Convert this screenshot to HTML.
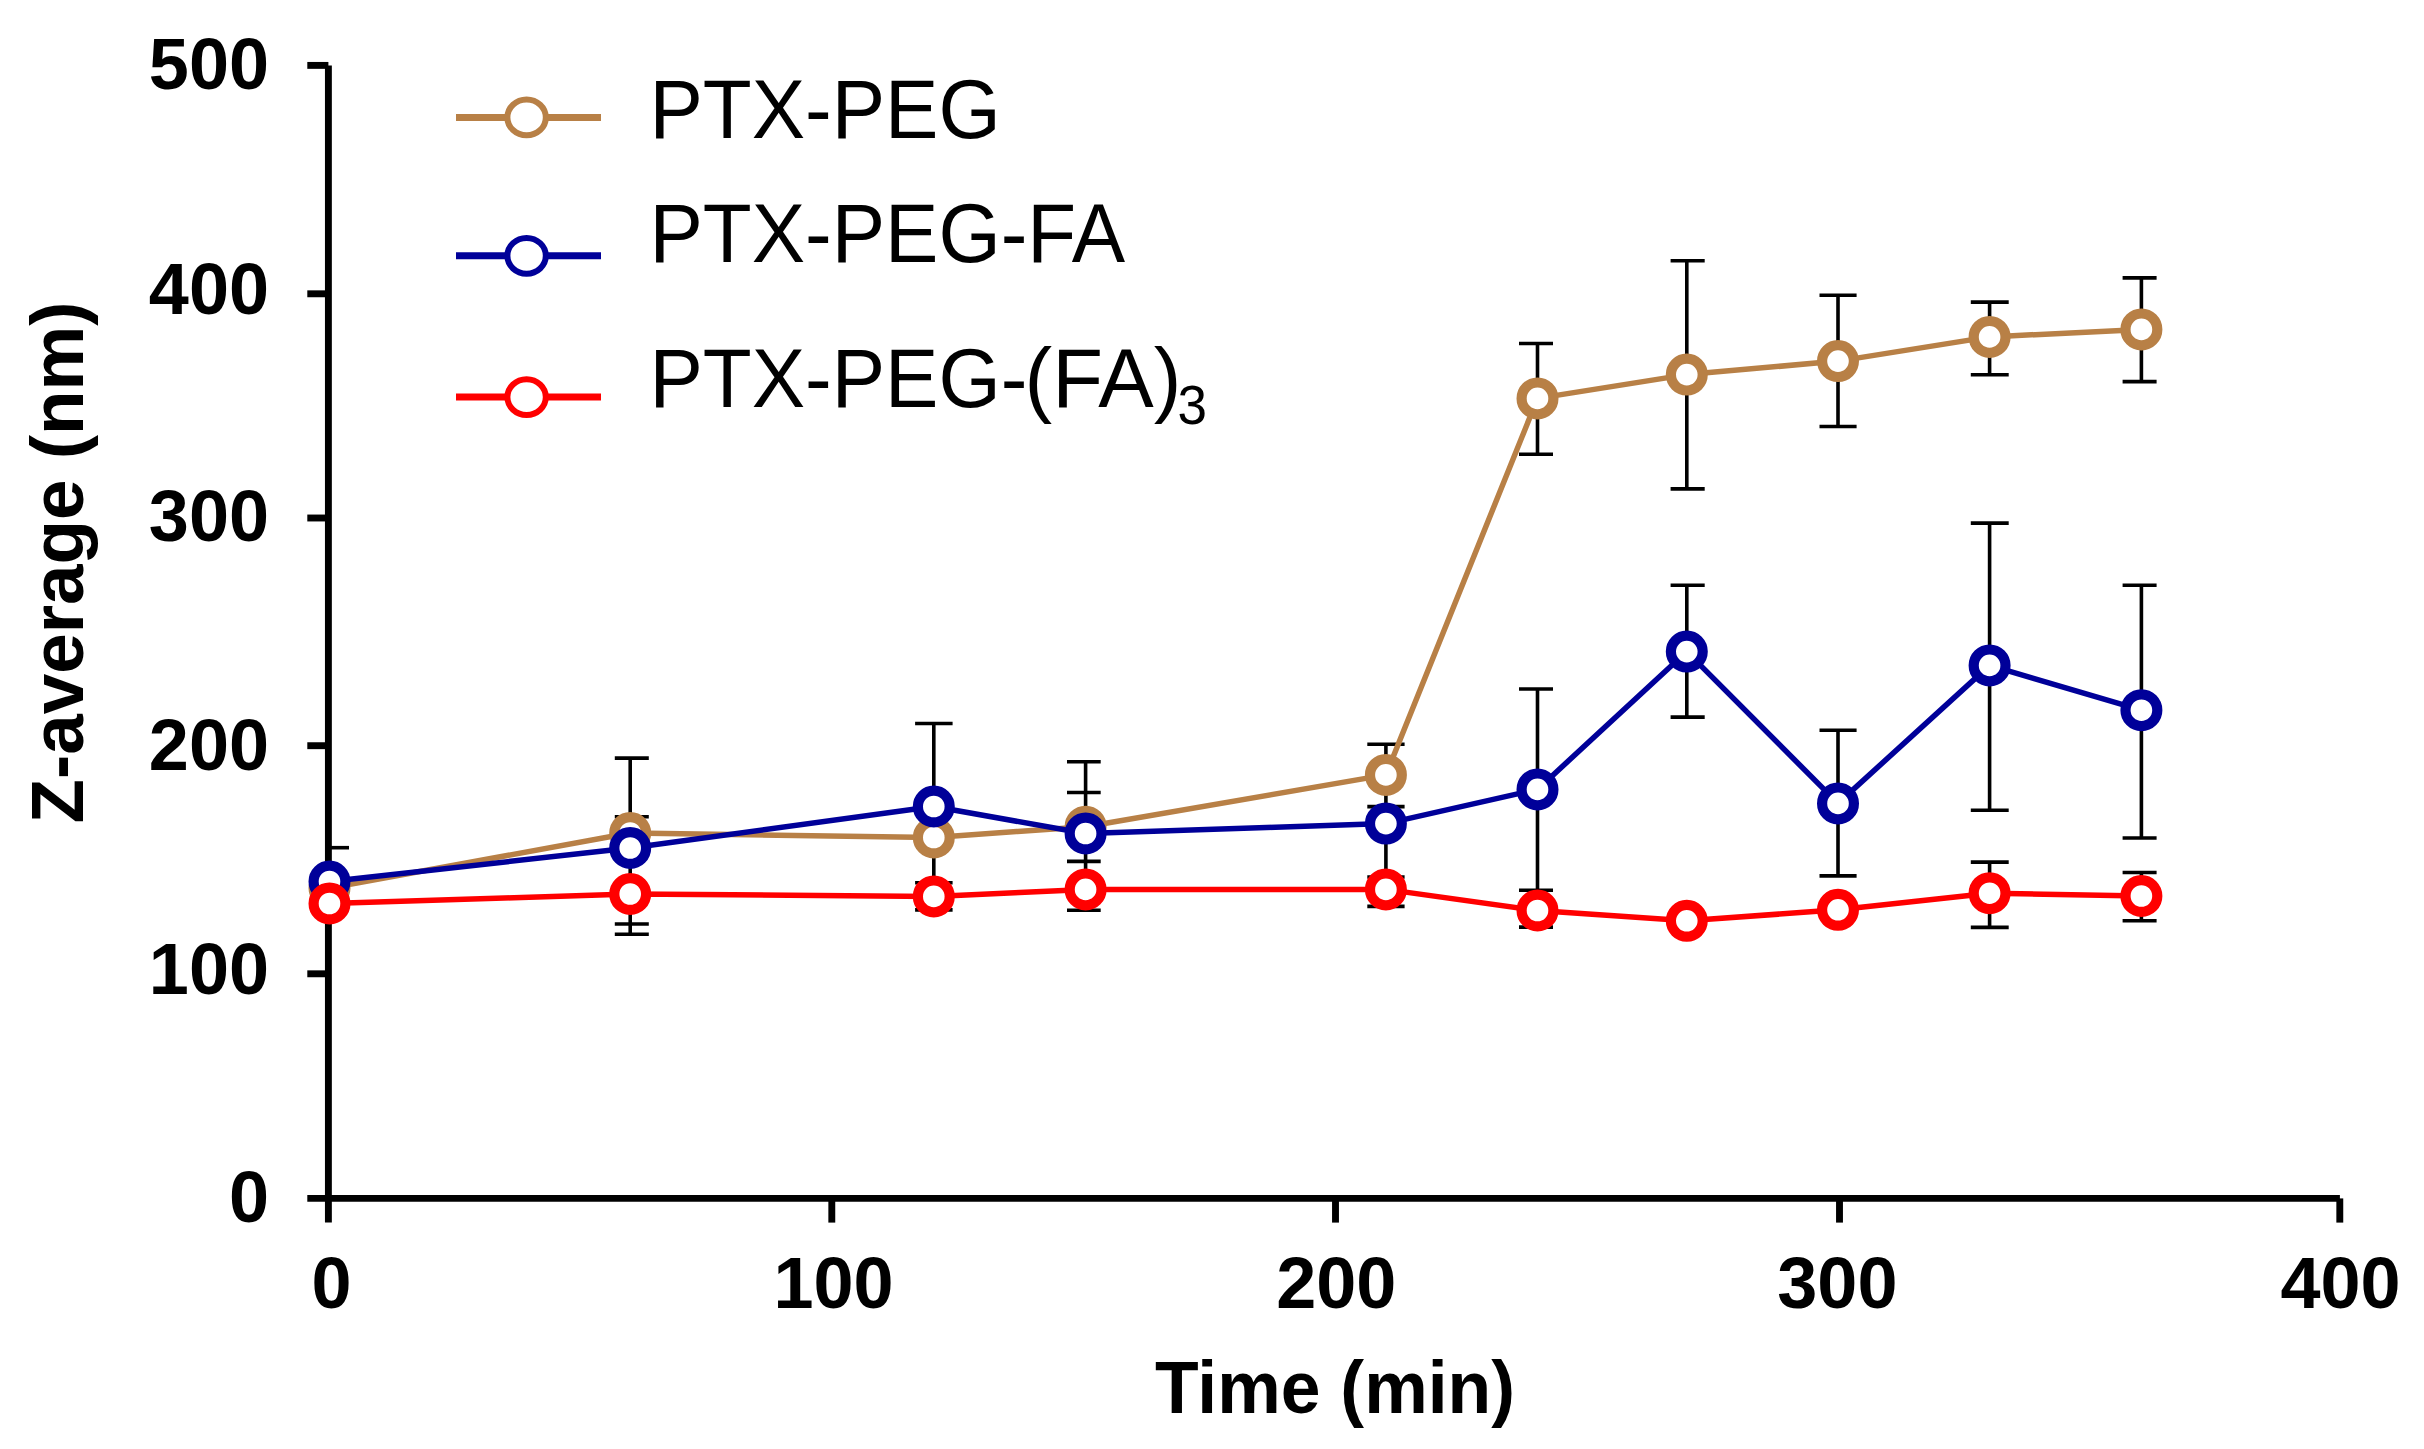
<!DOCTYPE html>
<html lang="en"><head><meta charset="utf-8"><title>Z-average vs Time</title>
<style>html,body{margin:0;padding:0;background:#fff}svg{display:block}text{font-family:"Liberation Sans",Arial,Helvetica,sans-serif;fill:#000}.b{font-weight:bold;font-size:72px}.l{font-size:80px}</style></head><body>
<svg width="2424" height="1449" viewBox="0 0 2424 1449" style="filter:blur(0.6px)">
<rect width="2424" height="1449" fill="#fff"/>
<g stroke="#000" stroke-width="6.9" fill="none">
<line x1="328.4" y1="65.4" x2="328.4" y2="1222.6"/>
<line x1="307.3" y1="1198.4" x2="2339.9" y2="1198.4"/>
<line x1="307.3" y1="65.4" x2="328.4" y2="65.4"/>
<line x1="307.3" y1="293.8" x2="328.4" y2="293.8"/>
<line x1="307.3" y1="518" x2="328.4" y2="518"/>
<line x1="307.3" y1="745.7" x2="328.4" y2="745.7"/>
<line x1="307.3" y1="973.8" x2="328.4" y2="973.8"/>
<line x1="831.8" y1="1198.4" x2="831.8" y2="1222.6"/>
<line x1="1335.5" y1="1198.4" x2="1335.5" y2="1222.6"/>
<line x1="1839.5" y1="1198.4" x2="1839.5" y2="1222.6"/>
<line x1="2339.8" y1="1198.4" x2="2339.8" y2="1222.6"/>
</g>
<g stroke="#000" stroke-width="3.6" fill="none">
<line x1="331" y1="847.7" x2="349" y2="847.7"/>
<line x1="630.2" y1="758.1" x2="630.2" y2="934.2"/>
<line x1="614.8" y1="758.1" x2="648.8" y2="758.1"/>
<line x1="614.8" y1="816.8" x2="648.8" y2="816.8"/>
<line x1="614.8" y1="924" x2="648.8" y2="924"/>
<line x1="614.8" y1="934.2" x2="648.8" y2="934.2"/>
<line x1="933.8" y1="723.5" x2="933.8" y2="909.9"/>
<line x1="915.1" y1="723.5" x2="952.6" y2="723.5"/>
<line x1="915.1" y1="882.8" x2="952.6" y2="882.8"/>
<line x1="915.1" y1="909.9" x2="952.6" y2="909.9"/>
<line x1="1085.6" y1="761.7" x2="1085.6" y2="910.2"/>
<line x1="1067" y1="761.7" x2="1100.7" y2="761.7"/>
<line x1="1067" y1="792.5" x2="1100.7" y2="792.5"/>
<line x1="1067" y1="861.4" x2="1100.7" y2="861.4"/>
<line x1="1067" y1="910.2" x2="1100.7" y2="910.2"/>
<line x1="1385.9" y1="744.3" x2="1385.9" y2="906.4"/>
<line x1="1367.3" y1="744.3" x2="1404.6" y2="744.3"/>
<line x1="1367.3" y1="806.6" x2="1404.6" y2="806.6"/>
<line x1="1367.3" y1="877" x2="1404.6" y2="877"/>
<line x1="1367.3" y1="906.4" x2="1404.6" y2="906.4"/>
<line x1="1537.5" y1="343.5" x2="1537.5" y2="454.3"/>
<line x1="1519" y1="343.5" x2="1553" y2="343.5"/>
<line x1="1519" y1="454.3" x2="1553" y2="454.3"/>
<line x1="1537.5" y1="689" x2="1537.5" y2="927.1"/>
<line x1="1519" y1="689" x2="1553" y2="689"/>
<line x1="1519" y1="890.2" x2="1553" y2="890.2"/>
<line x1="1519" y1="927.1" x2="1553" y2="927.1"/>
<line x1="1686.8" y1="260.7" x2="1686.8" y2="488.9"/>
<line x1="1670.6" y1="260.7" x2="1704.7" y2="260.7"/>
<line x1="1670.6" y1="488.9" x2="1704.7" y2="488.9"/>
<line x1="1686.8" y1="585.3" x2="1686.8" y2="717.1"/>
<line x1="1670.6" y1="585.3" x2="1704.7" y2="585.3"/>
<line x1="1670.6" y1="717.1" x2="1704.7" y2="717.1"/>
<line x1="1838" y1="295.3" x2="1838" y2="426.5"/>
<line x1="1819.5" y1="295.3" x2="1856.6" y2="295.3"/>
<line x1="1819.5" y1="426.5" x2="1856.6" y2="426.5"/>
<line x1="1838" y1="730.3" x2="1838" y2="875.9"/>
<line x1="1819.5" y1="730.3" x2="1856.6" y2="730.3"/>
<line x1="1819.5" y1="875.9" x2="1856.6" y2="875.9"/>
<line x1="1989.6" y1="302.1" x2="1989.6" y2="374.8"/>
<line x1="1970.8" y1="302.1" x2="2008.7" y2="302.1"/>
<line x1="1970.8" y1="374.8" x2="2008.7" y2="374.8"/>
<line x1="1989.6" y1="523.1" x2="1989.6" y2="810.3"/>
<line x1="1970.8" y1="523.1" x2="2008.7" y2="523.1"/>
<line x1="1970.8" y1="810.3" x2="2008.7" y2="810.3"/>
<line x1="1989.6" y1="862.1" x2="1989.6" y2="927.4"/>
<line x1="1970.8" y1="862.1" x2="2008.7" y2="862.1"/>
<line x1="1970.8" y1="927.4" x2="2008.7" y2="927.4"/>
<line x1="2141.4" y1="277.9" x2="2141.4" y2="381.6"/>
<line x1="2122.6" y1="277.9" x2="2156.6" y2="277.9"/>
<line x1="2122.6" y1="381.6" x2="2156.6" y2="381.6"/>
<line x1="2141.4" y1="585.3" x2="2141.4" y2="838"/>
<line x1="2122.6" y1="585.3" x2="2156.6" y2="585.3"/>
<line x1="2122.6" y1="838" x2="2156.6" y2="838"/>
<line x1="2141.4" y1="872.5" x2="2141.4" y2="920.8"/>
<line x1="2122.6" y1="872.5" x2="2156.6" y2="872.5"/>
<line x1="2122.6" y1="920.8" x2="2156.6" y2="920.8"/>
</g>
<polyline points="329.5,888 630.2,833 933.8,837.5 1085.6,826.7 1385.9,774.9 1537.5,398.4 1686.8,374.6 1838.0,361.1 1989.6,336.9 2141.4,329.4" fill="none" stroke="#b88046" stroke-width="5.5" stroke-linejoin="round"/>
<g fill="#fff" stroke="#b88046" stroke-width="10.2">
<circle cx="329.5" cy="888" r="15.9"/>
<circle cx="630.2" cy="833" r="15.9"/>
<circle cx="933.8" cy="837.5" r="15.9"/>
<circle cx="1085.6" cy="826.7" r="15.9"/>
<circle cx="1385.9" cy="774.9" r="15.9"/>
<circle cx="1537.5" cy="398.4" r="15.9"/>
<circle cx="1686.8" cy="374.6" r="15.9"/>
<circle cx="1838.0" cy="361.1" r="15.9"/>
<circle cx="1989.6" cy="336.9" r="15.9"/>
<circle cx="2141.4" cy="329.4" r="15.9"/>
</g>
<polyline points="329.5,881.5 630.2,848 933.8,806.5 1085.6,833.5 1385.9,823.6 1537.5,789.4 1686.8,651.6 1838.0,803.4 1989.6,665.4 2141.4,710.2" fill="none" stroke="#000099" stroke-width="5.5" stroke-linejoin="round"/>
<g fill="#fff" stroke="#000099" stroke-width="10.2">
<circle cx="329.5" cy="881.5" r="15.9"/>
<circle cx="630.2" cy="848" r="15.9"/>
<circle cx="933.8" cy="806.5" r="15.9"/>
<circle cx="1085.6" cy="833.5" r="15.9"/>
<circle cx="1385.9" cy="823.6" r="15.9"/>
<circle cx="1537.5" cy="789.4" r="15.9"/>
<circle cx="1686.8" cy="651.6" r="15.9"/>
<circle cx="1838.0" cy="803.4" r="15.9"/>
<circle cx="1989.6" cy="665.4" r="15.9"/>
<circle cx="2141.4" cy="710.2" r="15.9"/>
</g>
<polyline points="329.5,903.5 630.2,894 933.8,896.4 1085.6,889.4 1385.9,889.4 1537.5,910.5 1686.8,920.8 1838.0,909.8 1989.6,893.2 2141.4,896" fill="none" stroke="#ff0000" stroke-width="5.5" stroke-linejoin="round"/>
<g fill="#fff" stroke="#ff0000" stroke-width="10.2">
<circle cx="329.5" cy="903.5" r="15.9"/>
<circle cx="630.2" cy="894" r="15.9"/>
<circle cx="933.8" cy="896.4" r="15.9"/>
<circle cx="1085.6" cy="889.4" r="15.9"/>
<circle cx="1385.9" cy="889.4" r="15.9"/>
<circle cx="1537.5" cy="910.5" r="15.9"/>
<circle cx="1686.8" cy="920.8" r="15.9"/>
<circle cx="1838.0" cy="909.8" r="15.9"/>
<circle cx="1989.6" cy="893.2" r="15.9"/>
<circle cx="2141.4" cy="896" r="15.9"/>
</g>
<line x1="456" y1="117.4" x2="601" y2="117.4" stroke="#b88046" stroke-width="7"/>
<ellipse cx="526.6" cy="117.4" rx="19.2" ry="17.9" fill="#fff" stroke="#b88046" stroke-width="6"/>
<line x1="456" y1="255.8" x2="601" y2="255.8" stroke="#000099" stroke-width="7"/>
<ellipse cx="526.6" cy="255.8" rx="19.2" ry="17.9" fill="#fff" stroke="#000099" stroke-width="6"/>
<line x1="456" y1="397.1" x2="601" y2="397.1" stroke="#ff0000" stroke-width="7"/>
<ellipse cx="526.6" cy="397.1" rx="19.2" ry="17.9" fill="#fff" stroke="#ff0000" stroke-width="6"/>
<text class="l" transform="translate(649.5,137.6) scale(1,1.05)">PTX-PEG</text>
<text class="l" transform="translate(649.5,262) scale(1,1.05)">PTX-PEG-FA</text>
<text class="l" transform="translate(649.5,407) scale(1,1.05)">PTX-PEG-</text>
<text class="l" transform="translate(1024.5,407) scale(1,1.05)" textLength="157" lengthAdjust="spacingAndGlyphs">(FA)</text>
<text transform="translate(1177.5,424) scale(1,1.05)" font-size="53">3</text>
<text class="b" text-anchor="end" x="269" y="88.8">500</text>
<text class="b" text-anchor="end" x="269" y="313.6">400</text>
<text class="b" text-anchor="end" x="269" y="541.2">300</text>
<text class="b" text-anchor="end" x="269" y="769.6">200</text>
<text class="b" text-anchor="end" x="269" y="994">100</text>
<text class="b" text-anchor="end" x="269" y="1221.9">0</text>
<text class="b" text-anchor="middle" x="331.6" y="1308.3">0</text>
<text class="b" text-anchor="middle" x="833.5" y="1308.3">100</text>
<text class="b" text-anchor="middle" x="1336.3" y="1308.3">200</text>
<text class="b" text-anchor="middle" x="1837.4" y="1308.3">300</text>
<text class="b" text-anchor="middle" x="2340.5" y="1308.3">400</text>
<text class="b" transform="translate(1155,1412.5) scale(1,1.04)" textLength="360" lengthAdjust="spacingAndGlyphs">Time (min)</text>
<text class="b" transform="translate(83,823.5) rotate(-90) scale(1,1.04)" textLength="522" lengthAdjust="spacingAndGlyphs">Z-average (nm)</text>
</svg></body></html>
